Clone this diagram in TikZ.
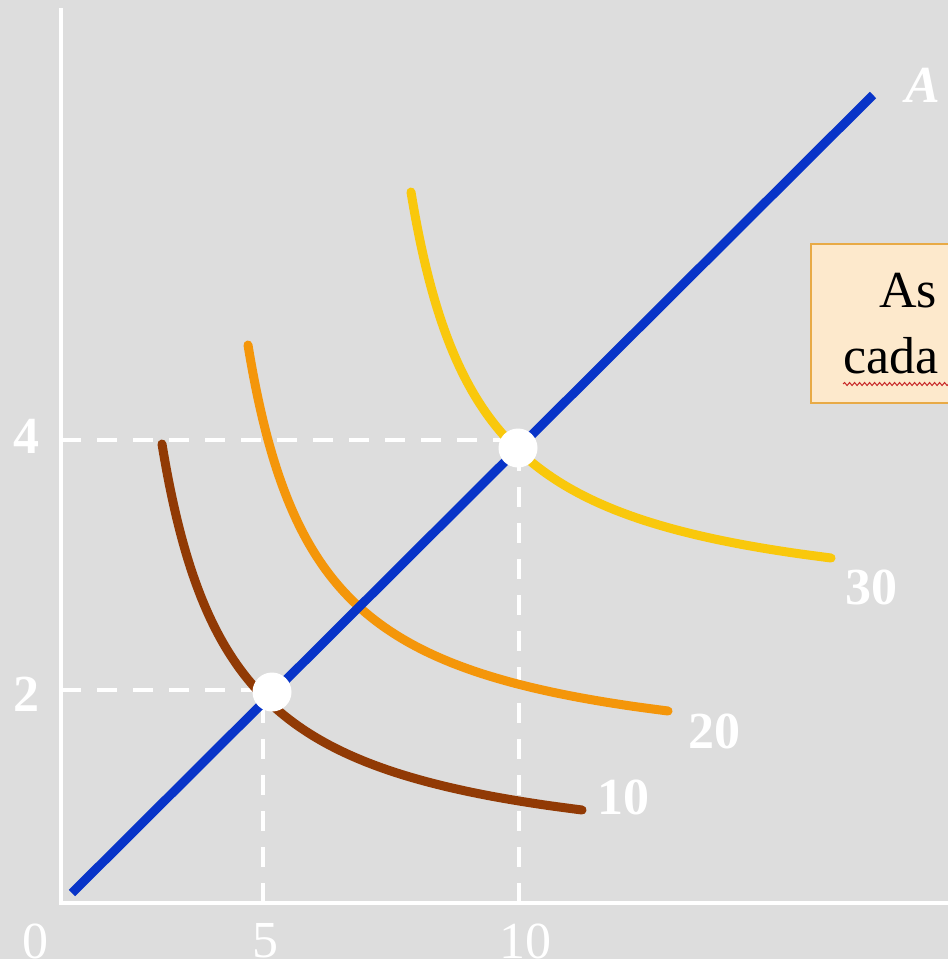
\documentclass[tikz,border=0pt]{standalone}
\usepackage{fontspec}
\setmainfont{Liberation Serif}
\usetikzlibrary{decorations.pathmorphing}
\definecolor{bg}{RGB}{221,221,221}
\definecolor{lineblue}{RGB}{8,52,200}
\definecolor{cbrown}{RGB}{145,58,5}
\definecolor{corange}{RGB}{244,150,10}
\definecolor{cyellow}{RGB}{249,200,12}
\definecolor{boxfill}{RGB}{253,233,204}
\definecolor{boxdraw}{RGB}{232,170,70}
\definecolor{wavy}{RGB}{200,40,40}
\tikzset{
  axisline/.style={white, line width=4pt},
  guide/.style={white, line width=3.5pt, dash pattern=on 20pt off 16pt},
  curve/.style={line width=9pt, line cap=round},
  lbl/.style={text=white, font=\fontsize{52}{60}\selectfont, inner sep=0pt},
  blbl/.style={text=white, font=\fontsize{52}{60}\selectfont\bfseries, inner sep=0pt},
  dot/.style={circle, fill=white, minimum size=39pt, inner sep=0pt},
  boxtext/.style={text=black, font=\fontsize{52}{60}\selectfont, inner sep=0pt, anchor=base west},
}
\begin{document}
\begin{tikzpicture}[x=1pt,y=-1pt]
\useasboundingbox (0,0) rectangle (948,959);
\clip (0,0) rectangle (948,959);
\fill[bg] (0,0) rectangle (948,959);

% axes
\coordinate (top) at (61,8);
\coordinate (origin) at (61,903);
\coordinate (right) at (960,903);
\draw[axisline] (top) -- (origin) -- (right);

% dashed guides
\coordinate (y4) at (61,440);
\coordinate (x4) at (519,440);
\coordinate (y2) at (61,690);
\coordinate (x2) at (263,690);
\coordinate (b5) at (263,903);
\coordinate (b10) at (519,903);
\coordinate (t10) at (519,448);
\draw[guide] (y4) -- (x4);
\draw[guide] (y2) -- (x2);
\draw[guide] (b5) -- (x2);
\draw[guide] (b10) -- (t10);

% curves (same shape, translated)
\draw[curve, cbrown] plot[variable=\t, domain=444:810, samples=80, smooth] ({92+298.9/((871-\t)/100)},\t);
\begin{scope}[shift={(86,-99)}]
\draw[curve, corange] plot[variable=\t, domain=444:810, samples=80, smooth] ({92+298.9/((871-\t)/100)},\t);
\end{scope}
\begin{scope}[shift={(249,-252)}]
\draw[curve, cyellow] plot[variable=\t, domain=444:810, samples=80, smooth] ({92+298.9/((871-\t)/100)},\t);
\end{scope}

% ray
\coordinate (rayS) at (72,893);
\coordinate (rayE) at (873,95);
\draw[lineblue, line width=9pt] (rayS) -- (rayE);

% points
\node[dot] (p1) at (272,692) {};
\node[dot] (p2) at (518,448) {};

% labels
\node[lbl] (l0) at (35,941) {0};
\node[lbl] (l5) at (265,941) {5};
\node[lbl] (l10) at (525,941) {10};
\node[blbl] (l4) at (26,436) {4};
\node[blbl] (l2) at (26,694) {2};
\node[blbl] (c10) at (623,797) {10};
\node[blbl] (c20) at (714,731) {20};
\node[blbl] (c30) at (871,587) {30};
\node[lbl, font=\fontsize{52}{60}\selectfont\bfseries\itshape, anchor=west] (lA) at (905,85) {A};

% box
\node[draw=boxdraw, fill=boxfill, line width=2pt, minimum width=200pt, minimum height=159pt, anchor=north west, inner sep=0pt] (box) at (810,243) {};
\node[boxtext] (t1) at (879,307) {As};
\node[boxtext] (t2) at (843,373) {cada};
\coordinate (w1) at (843,384);
\coordinate (w2) at (950,384);
\draw[wavy, line width=1pt, decorate, decoration={snake, amplitude=1.5pt, segment length=5pt}] (w1) -- (w2);
\end{tikzpicture}
\end{document}
